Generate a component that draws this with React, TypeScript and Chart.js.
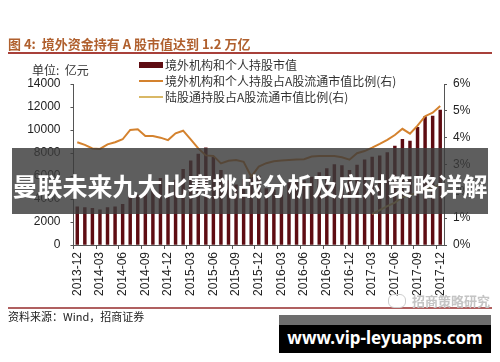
import React, { useEffect, useRef } from "react";
import { Chart, registerables } from "chart.js";
Chart.register(...registerables);

const months = [
  "2013-12", "2014-01", "2014-02", "2014-03", "2014-04", "2014-05", "2014-06", "2014-07", "2014-08", "2014-09", "2014-10", "2014-11", "2014-12",
  "2015-01", "2015-02", "2015-03", "2015-04", "2015-05", "2015-06", "2015-07", "2015-08", "2015-09", "2015-10", "2015-11", "2015-12",
  "2016-01", "2016-02", "2016-03", "2016-04", "2016-05", "2016-06", "2016-07", "2016-08", "2016-09", "2016-10", "2016-11", "2016-12",
  "2017-01", "2017-02", "2017-03", "2017-04", "2017-05", "2017-06", "2017-07", "2017-08", "2017-09", "2017-10", "2017-11", "2017-12",
];

// 境外机构和个人持股市值 (亿元)
const holdingValue = [
  3330, 3250, 3190, 3050, 3250, 3330, 3540, 4200, 4350, 4490, 4930, 5800, 5220,
  5650, 6580, 7330, 7910, 8460, 7620, 6500, 5600, 5240, 5700, 5900, 5990,
  4900, 4800, 5310, 5400, 5500, 5600, 5900, 6300, 6650, 7000, 6900, 6500,
  6950, 7400, 7650, 7750, 8030, 8600, 9190, 9040, 10230, 11160, 11220, 11740,
];

// 境外机构和个人持股占A股流通市值比例 (%)
const foreignRatio = [
  3.83, 3.73, 3.6, 3.58, 3.75, 3.83, 3.94, 4.29, 4.31, 4.06, 4.06, 4.0, 3.91,
  4.16, 4.26, 3.94, 3.6, 3.34, 3.32, 3.04, 3.14, 3.17, 3.1, 2.55, 2.92,
  3.05, 3.12, 3.15, 3.17, 3.19, 3.2, 3.3, 3.32, 3.32, 3.32, 3.27, 3.18,
  3.42, 3.5, 3.63, 3.77, 3.92, 4.1, 4.33, 4.15, 4.45, 4.8, 4.93, 5.18,
];

// 陆股通持股占A股流通市值比例 (%)
const connectRatio: (number | null)[] = [
  null, null, null, null, null, null, null, null, null, null, null, null, null,
  null, null, null, null, null, null, null, null, null, null, null, null,
  null, null, null, null, null, null, null, null, null, null, null, null,
  null, null, 1.16, 1.3, 1.45, 1.58, 1.78, 1.86, 1.95, 2.08, 2.15, 2.25,
];

const leftTicks = [0, 2000, 4000, 6000, 8000, 10000, 12000, 14000];
const rightTicks = [0, 1, 2, 3, 4, 5, 6];

const BAR = "#5e0c12";
const ORANGE = "#d4822e";
const GOLD = "#d9b866";
const AXIS = "#555555";
const FONT = "'Liberation Sans', Arial, sans-serif";
const CJK = "'Noto Sans CJK SC', sans-serif";

export default function App() {
  const ref = useRef<HTMLCanvasElement | null>(null);

  useEffect(() => {
    if (!ref.current) return;
    const chart = new Chart(ref.current, {
      data: {
        labels: months,
        datasets: [
          {
            type: "line",
            label: "境外机构和个人持股占A股流通市值比例(右)",
            data: foreignRatio,
            yAxisID: "y1",
            borderColor: ORANGE,
            borderWidth: 2,
            pointRadius: 0,
            tension: 0,
            order: 1,
          },
          {
            type: "line",
            label: "陆股通持股占A股流通市值比例(右)",
            data: connectRatio,
            yAxisID: "y1",
            borderColor: GOLD,
            borderWidth: 2,
            pointRadius: 0,
            tension: 0,
            spanGaps: false,
            order: 0,
          },
          {
            type: "bar",
            label: "境外机构和个人持股市值",
            data: holdingValue,
            yAxisID: "y",
            backgroundColor: BAR,
            barThickness: 2.8,
            order: 2,
          },
        ],
      },
      options: {
        responsive: false,
        animation: false,
        devicePixelRatio: 1,
        layout: { padding: { top: 84, left: 0, right: 0, bottom: 0 } },
        plugins: { legend: { display: false }, tooltip: { enabled: false }, title: { display: false } },
        scales: {
          x: {
            type: "category",
            offset: true,
            border: { display: true, color: AXIS, width: 1 },
            grid: {
              display: true,
              drawOnChartArea: false,
              drawTicks: true,
              tickLength: 4,
              offset: true,
              tickColor: (ctx: any) => (ctx.index % 3 === 0 ? AXIS : "rgba(0,0,0,0)"),
            },
            ticks: {
              autoSkip: false,
              minRotation: 90,
              maxRotation: 90,
              padding: 3,
              color: "#222",
              font: { family: FONT, size: 12 },
              callback: (_v: any, i: number) => (i % 3 === 0 ? months[i] : ""),
            },
            afterFit: (s: any) => {
              s.height = 117;
            },
          },
          y: {
            position: "left",
            min: 0,
            max: 14000,
            border: { display: true, color: AXIS, width: 1 },
            grid: { display: true, drawOnChartArea: false, drawTicks: true, tickLength: 3, tickColor: AXIS },
            ticks: {
              stepSize: 2000,
              padding: 10,
              color: "#222",
              font: { family: FONT, size: 12 },
              callback: (v: any) => (leftTicks.includes(v) ? String(v) : ""),
            },
            afterFit: (s: any) => {
              s.width = 73.5;
            },
          },
          y1: {
            position: "right",
            min: 0,
            max: 6,
            border: { display: true, color: AXIS, width: 1 },
            grid: { display: true, drawOnChartArea: false, drawTicks: true, tickLength: 3, tickColor: AXIS },
            ticks: {
              stepSize: 1,
              padding: 6,
              color: "#222",
              font: { family: FONT, size: 12 },
              callback: (v: any) => (rightTicks.includes(v) ? v + "%" : ""),
            },
            afterFit: (s: any) => {
              s.width = 56;
            },
          },
        },
      } as any,
    });
    return () => chart.destroy();
  }, []);

  const legendRow = (top: number, marker: React.ReactNode, text: string) => (
    <div style={{ position: "absolute", left: 139, top: top - 8, height: 16, display: "flex", alignItems: "center", whiteSpace: "nowrap" }}>
      <div style={{ width: 24, display: "flex", alignItems: "center" }}>{marker}</div>
      <span style={{ marginLeft: 2, fontFamily: CJK, fontSize: 12, color: "#333", lineHeight: "16px" }}>{text}</span>
    </div>
  );

  return (
    <div style={{ position: "absolute", left: 0, top: 0, width: 500, height: 362, background: "#fff", overflow: "hidden" }}>
      <canvas ref={ref} width={500} height={362} style={{ position: "absolute", left: 0, top: 0, width: 500, height: 362 }} />
      <div style={{ position: "absolute", left: 8, top: 36, fontFamily: CJK, fontSize: 13, fontWeight: 700, color: "#b0602e", whiteSpace: "nowrap", lineHeight: "16px" }}>
        图 4:&nbsp; 境外资金持有 A 股市值达到 1.2 万亿
      </div>
      <div style={{ position: "absolute", left: 8, top: 52, width: 484, height: 2, background: "#a8403a" }} />
      <div style={{ position: "absolute", left: 32, top: 62, fontFamily: CJK, fontSize: 12, color: "#333", whiteSpace: "nowrap", lineHeight: "16px" }}>
        单位:&nbsp; 亿元
      </div>
      {legendRow(65, <div style={{ width: 24, height: 6, background: BAR }} />, "境外机构和个人持股市值")}
      {legendRow(81, <div style={{ width: 24, height: 2, background: ORANGE }} />, "境外机构和个人持股占A股流通市值比例(右)")}
      {legendRow(97, <div style={{ width: 24, height: 2, background: GOLD }} />, "陆股通持股占A股流通市值比例(右)")}
      <div style={{ position: "absolute", left: 8, top: 307, width: 484, height: 1.5, background: "#b06060" }} />
      <div style={{ position: "absolute", left: 8, top: 309, fontFamily: CJK, fontSize: 11, color: "#222", whiteSpace: "nowrap", lineHeight: "14px" }}>
        资料来源：Wind，招商证券
      </div>
      <div style={{ position: "absolute", left: 388, top: 293, display: "flex", alignItems: "center", whiteSpace: "nowrap" }}>
        <div style={{ width: 16, height: 12, borderRadius: 6, border: "1.5px solid #ccc", marginRight: 6 }} />
        <span style={{ fontFamily: CJK, fontSize: 13, color: "#c4c4c4", fontWeight: 700, lineHeight: "16px" }}>招商策略研究</span>
      </div>
      <div style={{ position: "absolute", left: 12, top: 148, width: 476, height: 66, background: "rgba(58,58,58,0.82)", display: "flex", alignItems: "center", justifyContent: "center" }}>
        <span style={{ fontFamily: CJK, fontSize: 25, fontWeight: 700, color: "#fff", whiteSpace: "nowrap", marginTop: 7, lineHeight: "30px" }}>
          曼联未来九大比赛挑战分析及应对策略详解
        </span>
      </div>
      <div style={{ position: "absolute", left: 279, top: 315, width: 212, height: 38, background: "#000" }}>
        <div style={{ height: 10, background: "#6e6e6e" }} />
        <div style={{ height: 28, display: "flex", alignItems: "center", justifyContent: "center" }}>
          <span style={{ fontFamily: "'Noto Sans', sans-serif", fontSize: 17, fontWeight: 700, color: "#fff", whiteSpace: "nowrap", marginTop: -4 }}>
            www.vip-leyuapps.com
          </span>
        </div>
      </div>
    </div>
  );
}
